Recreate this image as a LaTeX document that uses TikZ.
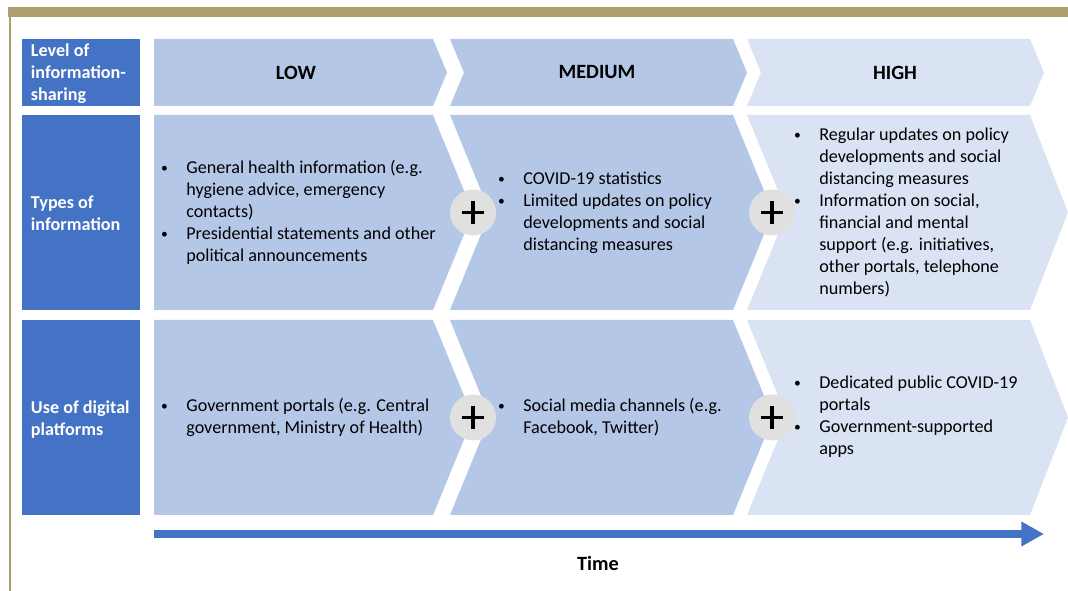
\documentclass[tikz,border=0pt]{standalone}
\usepackage{fontspec}
\setmainfont{Carlito}
\usepackage{array}
\usetikzlibrary{arrows.meta}
\definecolor{gold}{HTML}{AE9D6E}
\definecolor{dblue}{HTML}{4472C4}
\definecolor{lblue}{HTML}{B4C7E7}
\definecolor{pblue}{HTML}{DAE3F3}
\definecolor{cgray}{HTML}{E0E0E0}
\newcommand{\txtsize}{\fontsize{13.6}{16.5}\selectfont}
\newcommand{\headsize}{\fontsize{15.2}{18}\selectfont}
\newcommand{\bl}{\raisebox{0.6pt}{\scalebox{0.75}{\textbullet}}}
\newenvironment{blist}{\begin{tabular}{@{}p{19pt}@{}l@{}}}{\end{tabular}}
\begin{document}
\begin{tikzpicture}[x=0.75pt,y=-0.75pt,
  every node/.style={font=\txtsize, inner sep=0pt, outer sep=0pt},
  lbltext/.style={font=\txtsize\bfseries, text=white, align=left, anchor=west},
  head/.style={font=\headsize\bfseries, text=black},
  items/.style={anchor=west, text=black},
  plus/.style={circle, fill=cgray, minimum size=34.5pt},
  plusbar/.style={line width=2.6pt, black},
  timearrow/.style={dblue, line width=6pt, -{Triangle[length=17pt,width=17.5pt]}}]
\useasboundingbox (0,0) rectangle (1068,591);
% frame
\fill[gold] (8,7) rectangle (1068,17);
\fill[gold] (9,17) rectangle (11,591);
% left label boxes
\fill[dblue] (22,39) rectangle (140,106);
\fill[dblue] (22,115) rectangle (140,310);
\fill[dblue] (22,320) rectangle (140,515);
\node[lbltext] (l1) at (31,74) {Level of\\information-\\sharing};
\node[lbltext] (l2) at (31,213.5) {Types of\\information};
\node[lbltext] (l3) at (31,419.5) {Use of digital\\platforms};
% row 1 chevrons
\fill[lblue] (154,39) -- (433,39) -- (447,72.5) -- (433,106) -- (154,106) -- cycle;
\fill[lblue] (450,39) -- (733,39) -- (747,72.5) -- (733,106) -- (450,106) -- (464,72.5) -- cycle;
\fill[pblue] (747,39) -- (1030,39) -- (1044,72.5) -- (1030,106) -- (747,106) -- (761,72.5) -- cycle;
% row 2 chevrons
\fill[lblue] (154,115) -- (433,115) -- (473,212.5) -- (433,310) -- (154,310) -- cycle;
\fill[lblue] (450,115) -- (733,115) -- (773,212.5) -- (733,310) -- (450,310) -- (490,212.5) -- cycle;
\fill[pblue] (747,115) -- (1030,115) -- (1068,212.5) -- (1030,310) -- (747,310) -- (787,212.5) -- cycle;
% row 3 chevrons
\fill[lblue] (154,320) -- (433,320) -- (473,417.5) -- (433,515) -- (154,515) -- cycle;
\fill[lblue] (450,320) -- (733,320) -- (773,417.5) -- (733,515) -- (450,515) -- (490,417.5) -- cycle;
\fill[pblue] (747,320) -- (1030,320) -- (1068,417.5) -- (1030,515) -- (747,515) -- (787,417.5) -- cycle;
% headers
\node[head] (low) at (296,72.5) {LOW};
\node[head] (medium) at (597,72.5) {MEDIUM};
\node[head] (high) at (895,72.5) {HIGH};
% row 2 texts
\node[items] (t1) at (161,213) {\begin{blist}
\bl & General health information (e.g.\\
 & hygiene advice, emergency\\
 & contacts)\\
\bl & Presidential statements and other\\
 & political announcements
\end{blist}};
\node[items] (t2) at (498,213) {\begin{blist}
\bl & COVID-19 statistics\\
\bl & Limited updates on policy\\
 & developments and social\\
 & distancing measures
\end{blist}};
\node[items] (t3) at (794,213) {\begin{blist}
\bl & Regular updates on policy\\
 & developments and social\\
 & distancing measures\\
\bl & Information on social,\\
 & financial and mental\\
 & support (e.g. initiatives,\\
 & other portals, telephone\\
 & numbers)
\end{blist}};
% row 3 texts
\node[items] (u1) at (161,418) {\begin{blist}
\bl & Government portals (e.g. Central\\
 & government, Ministry of Health)
\end{blist}};
\node[items] (u2) at (498,418) {\begin{blist}
\bl & Social media channels (e.g.\\
 & Facebook, Twitter)
\end{blist}};
\node[items] (u3) at (794,417) {\begin{blist}
\bl & Dedicated public COVID-19\\
 & portals\\
\bl & Government-supported\\
 & apps
\end{blist}};
% plus circles
\foreach \n/\px/\py in {p1/473/212.5, p2/772/212.5, p3/473/417.5, p4/772/417.5} {
  \node[plus] (\n) at (\px,\py) {};
  \draw[plusbar] ([xshift=-8.3pt]\n.center) -- ([xshift=8.3pt]\n.center);
  \draw[plusbar] ([yshift=-8.5pt]\n.center) -- ([yshift=8.5pt]\n.center);
}
% time arrow
\coordinate (ts) at (154,534);
\coordinate (te) at (1044,534);
\draw[timearrow] (ts) -- (te);
\node[head] (time) at (598,563) {Time};
\end{tikzpicture}
\end{document}
